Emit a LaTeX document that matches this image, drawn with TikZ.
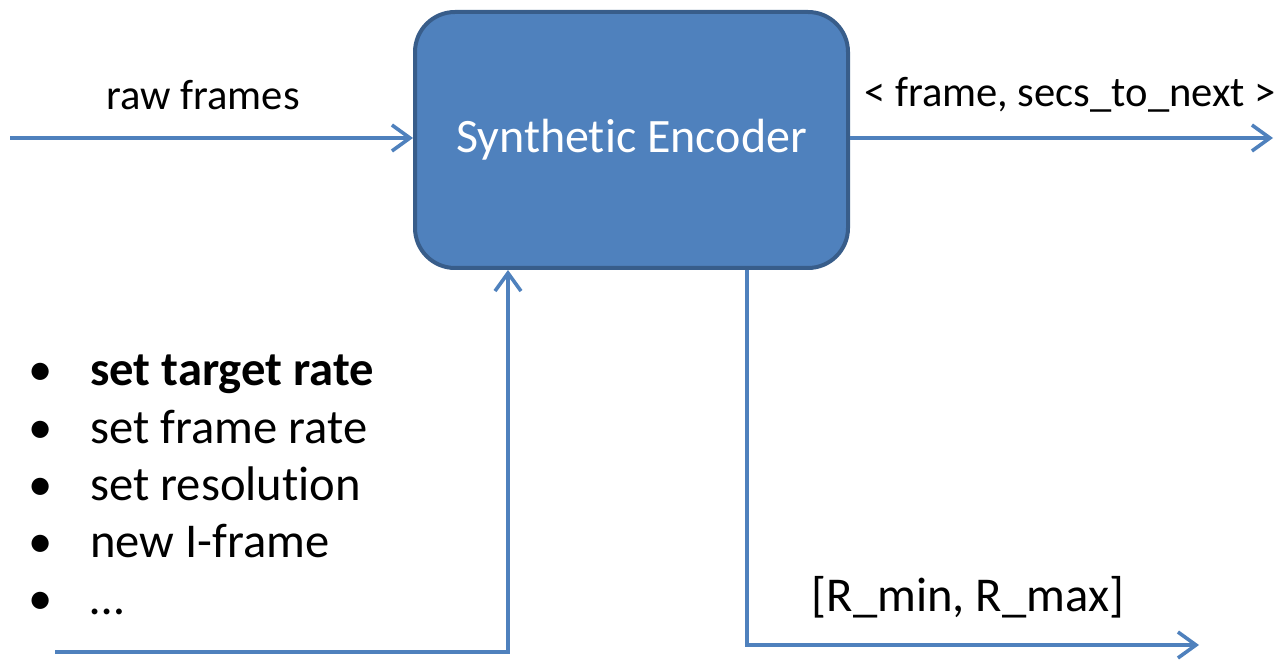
\documentclass[tikz,border=0pt]{standalone}
\usepackage{fontspec}
\setmainfont[Ligatures=NoCommon]{Carlito}
\usetikzlibrary{arrows.meta}
\definecolor{encfill}{HTML}{4F81BD}
\definecolor{encline}{HTML}{385D8A}

\begin{document}
\begin{tikzpicture}[x=0.5pt,y=-0.5pt,
  flow/.style={draw=encfill,line width=1.8pt,-{Straight Barb[length=9pt,width=13pt,line width=1.8pt]}},
  lbl/.style={font=\fontsize{21.3}{26}\selectfont,inner sep=0pt},
  item/.style={font=\fontsize{24.3}{29}\selectfont,inner sep=0pt}]
\useasboundingbox (0,0) rectangle (1285,663);
\node[draw=encline,fill=encfill,line width=2pt,rounded corners=20pt,minimum width=216.5pt,minimum height=128pt,text=white,font=\fontsize{24}{29}\selectfont] at (631.5,140) (enc) {Synthetic Encoder};
\coordinate (rawin) at (10,138);
\coordinate (frameout) at (1273,138);
\coordinate (ctlin) at (55,652);
\coordinate (ctlturn) at (508,652);
\coordinate (ratedown) at (747,0);
\coordinate (rateout) at (1199,645);
\draw[flow] (rawin)--(enc.west |- rawin);
\draw[flow] (enc.east |- frameout)--(frameout);
\draw[flow] (ctlin)--(ctlturn)--(ctlturn |- enc.south);
\draw[flow] (enc.south -| ratedown) |- (rateout);
\node[lbl] at (203,95) (raw) {raw frames};
\node[lbl] at (1070,95) (frame) {< frame, secs\_to\_next >};
\node[item] at (968,597) (range) {[R\_min, R\_max]};
\foreach \t [count=\i] in {\textbf{set target rate},set frame rate,set resolution,new I-frame,…}{
  \node[item,anchor=base west] at (28,329+57*\i) (b\i) {•};
  \node[item,anchor=base west] at (90,329+57*\i) (item\i) {\t};
}
\end{tikzpicture}
\end{document}
